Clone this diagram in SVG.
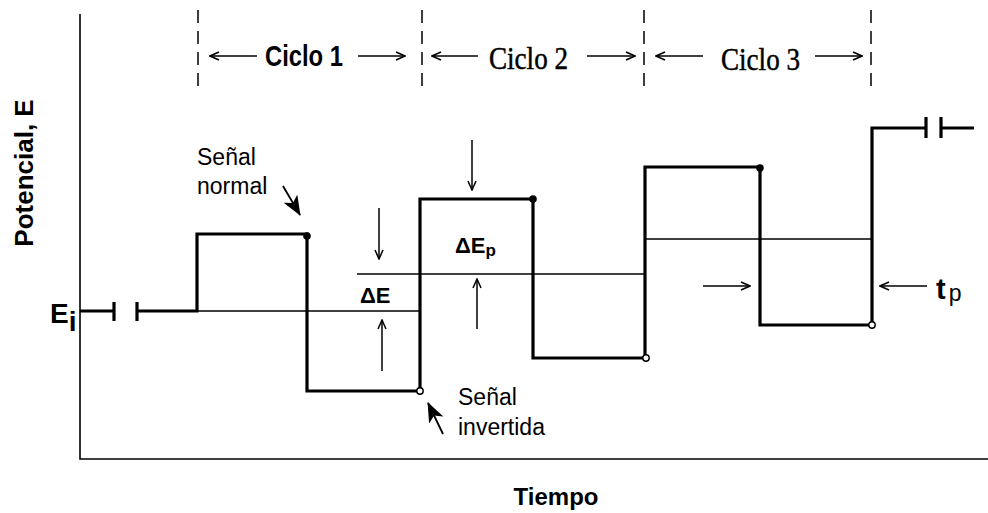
<svg xmlns="http://www.w3.org/2000/svg" width="988" height="513" viewBox="0 0 988 513">
<style>
.thick{fill:none;stroke:#000;stroke-width:3.2;stroke-linejoin:miter;stroke-linecap:butt}
.thin{fill:none;stroke:#000;stroke-width:1.6}
.axis{fill:none;stroke:#000;stroke-width:1.6}
.dash{fill:none;stroke:#000;stroke-width:1.5;stroke-dasharray:13 8}
.arr{fill:none;stroke:#000;stroke-width:1.5;marker-end:url(#open)}
.ptr{fill:none;stroke:#000;stroke-width:1.8;marker-end:url(#solid)}
.sans{font-family:"Liberation Sans",Arial,sans-serif}
.bold{font-weight:bold}
.serif{font-family:"Liberation Serif","Times New Roman",serif;stroke:#000;stroke-width:0.5}
</style>
<defs>
<marker id="open" viewBox="0 0 12 10" refX="11" refY="5" markerWidth="12" markerHeight="10" markerUnits="userSpaceOnUse" orient="auto">
<polyline points="2,1 11,5 2,9" fill="none" stroke="#000" stroke-width="1.5"/>
</marker>
<marker id="solid" viewBox="0 0 20 16" refX="19" refY="8" markerWidth="20" markerHeight="16" markerUnits="userSpaceOnUse" orient="auto">
<polygon points="0,0 20,8 0,16 5,8" fill="#000"/>
</marker>
</defs>
<rect width="988" height="513" fill="#fff"/>

<g id="axes">
<path class="axis" d="M80,14 V459 H988"/>
</g>

<g id="cycle-dividers">
<line class="dash" x1="198" y1="10" x2="198" y2="87"/>
<line class="dash" x1="422" y1="10" x2="422" y2="87"/>
<line class="dash" x1="644" y1="10" x2="644" y2="87"/>
<line class="dash" x1="871" y1="10" x2="871" y2="87"/>
</g>

<g id="waveform">
<path class="thick" d="M80,311 H114 M114,302 V321 M137,302 V321 M137,311 H197 V234 H307 V391 H420 V199 H533 V358 H645 V167 H760 V325 H872 V128 H926 M926,117 V138 M941,117 V138 M941,128 H974"/>
<circle cx="307" cy="236" r="3.8" fill="#000"/>
<circle cx="533" cy="199" r="3.8" fill="#000"/>
<circle cx="760" cy="168" r="3.8" fill="#000"/>
<circle cx="420" cy="391" r="3.2" fill="#fff" stroke="#000" stroke-width="1.4"/>
<circle cx="646" cy="358" r="3.2" fill="#fff" stroke="#000" stroke-width="1.4"/>
<circle cx="872" cy="325" r="3.2" fill="#fff" stroke="#000" stroke-width="1.4"/>
</g>

<g id="baselines">
<line class="thin" x1="197" y1="311" x2="420" y2="311"/>
<line class="thin" x1="357" y1="274" x2="645" y2="274"/>
<line class="thin" x1="645" y1="239" x2="872" y2="239"/>
</g>

<g id="connectors">
<line class="arr" x1="257" y1="56" x2="210" y2="56"/>
<line class="arr" x1="358" y1="56" x2="405" y2="56"/>
<line class="arr" x1="478" y1="56" x2="432" y2="56"/>
<line class="arr" x1="587" y1="56" x2="635" y2="56"/>
<line class="arr" x1="703" y1="56" x2="656" y2="56"/>
<line class="arr" x1="815" y1="56" x2="862" y2="56"/>
<line class="arr" x1="379" y1="208" x2="379" y2="259"/>
<line class="arr" x1="382" y1="371" x2="382" y2="320"/>
<line class="arr" x1="472" y1="140" x2="472" y2="190"/>
<line class="arr" x1="477" y1="329" x2="477" y2="279"/>
<line class="arr" x1="703" y1="286" x2="750" y2="286"/>
<line class="arr" x1="927" y1="286" x2="880" y2="286"/>
<line class="ptr" x1="283" y1="186" x2="300" y2="215"/>
<line class="ptr" x1="443" y1="434" x2="428" y2="403"/>
</g>

<g id="label-ciclo1"><text class="sans bold" x="265" y="66" font-size="30" textLength="78" lengthAdjust="spacingAndGlyphs">Ciclo 1</text></g>
<g id="label-ciclo2"><text class="serif" x="489" y="69" font-size="31" textLength="79" lengthAdjust="spacingAndGlyphs">Ciclo 2</text></g>
<g id="label-ciclo3"><text class="serif" x="721" y="70" font-size="31" textLength="79" lengthAdjust="spacingAndGlyphs">Ciclo 3</text></g>

<g id="label-potencial"><text class="sans bold" transform="translate(33,173) rotate(-90)" text-anchor="middle" font-size="26">Potencial, E</text></g>
<g id="label-tiempo"><text class="sans bold" x="556" y="505" text-anchor="middle" font-size="24">Tiempo</text></g>
<g id="label-ei"><text class="sans bold" x="50" y="323" font-size="28">E<tspan dy="8">i</tspan></text></g>
<g id="label-senal-normal"><text class="sans" font-size="23"><tspan x="197" y="165">Señal</tspan><tspan x="197" y="194">normal</tspan></text></g>
<g id="label-senal-invertida"><text class="sans" font-size="23"><tspan x="458" y="405">Señal</tspan><tspan x="458" y="435">invertida</tspan></text></g>
<g id="label-de"><text class="sans bold" x="360" y="303" font-size="22">ΔE</text></g>
<g id="label-dep"><text class="sans bold" x="455" y="253" font-size="22">ΔE<tspan font-size="17" dy="3">p</tspan></text></g>
<g id="label-tp"><text class="sans" x="936" y="299"><tspan class="bold" font-size="29">t</tspan><tspan font-size="23" dx="3" dy="2">p</tspan></text></g>
</svg>
